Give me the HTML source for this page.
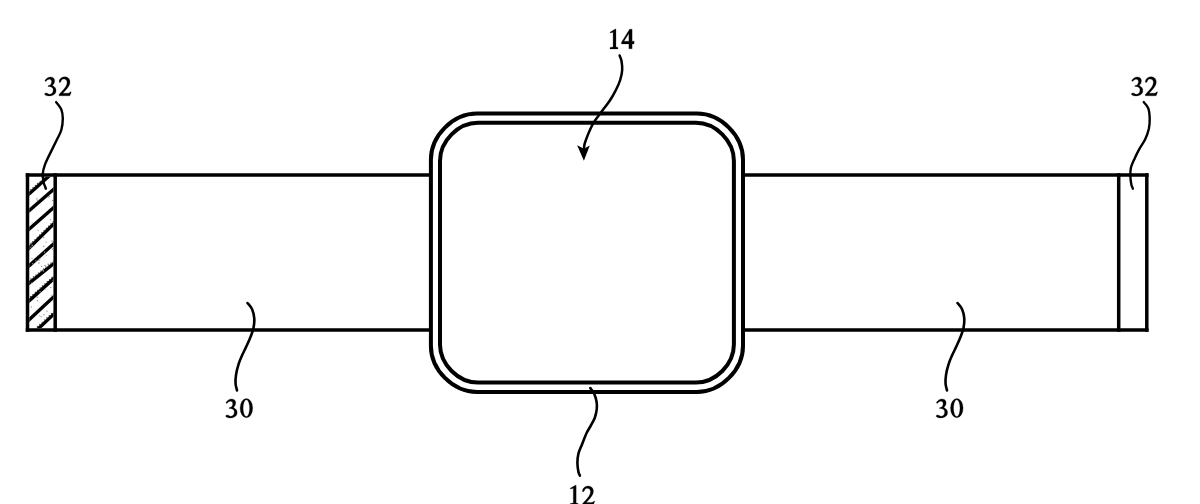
<!DOCTYPE html>
<html><head><meta charset="utf-8"><style>
html,body{margin:0;padding:0;background:#fff;width:1200px;height:504px;overflow:hidden}
svg{display:block}
</style></head><body>
<svg width="1200" height="504" viewBox="0 0 1200 504">
<defs><clipPath id="hc"><rect x="29.25" y="176.65" width="24.20" height="151.50"/></clipPath></defs>
<g clip-path="url(#hc)" stroke="#000" stroke-width="3.4" fill="none"><path d="M25.40 197.17 L56.60 169.33"/><path d="M25.40 213.98 L56.60 186.82"/><path d="M25.40 232.53 L56.60 204.97"/><path d="M25.40 251.71 L56.60 221.19"/><path d="M25.40 269.07 L56.60 241.23"/><path d="M25.40 286.07 L56.60 261.33"/><path d="M25.40 304.10 L56.60 276.00"/><path d="M25.40 323.24 L56.60 294.06"/><path d="M25.40 340.74 L56.60 311.56"/></g>
<g clip-path="url(#hc)"><rect x="37.3" y="199.9" width="1.2" height="1.2" fill="rgb(126,126,126)"/><rect x="31.4" y="257.8" width="1.2" height="1.2" fill="rgb(166,166,166)"/><rect x="43.3" y="314.1" width="1.2" height="1.2" fill="rgb(147,147,147)"/><rect x="30.6" y="242.4" width="1.2" height="1.2" fill="rgb(128,128,128)"/><rect x="35.3" y="260.1" width="1.2" height="1.2" fill="rgb(127,127,127)"/><rect x="48.9" y="195.8" width="1.2" height="1.2" fill="rgb(148,148,148)"/><rect x="44.4" y="264.9" width="1.2" height="1.2" fill="rgb(127,127,127)"/><rect x="43.1" y="236.9" width="1.2" height="1.2" fill="rgb(148,148,148)"/><rect x="30.8" y="306.3" width="1.2" height="1.2" fill="rgb(157,157,157)"/><rect x="39.5" y="258.5" width="1.2" height="1.2" fill="rgb(193,193,193)"/><rect x="36.9" y="300.0" width="1.2" height="1.2" fill="rgb(143,143,143)"/><rect x="32.1" y="263.1" width="1.2" height="1.2" fill="rgb(144,144,144)"/><rect x="38.4" y="259.6" width="1.2" height="1.2" fill="rgb(128,128,128)"/><rect x="42.8" y="270.3" width="1.2" height="1.2" fill="rgb(183,183,183)"/><rect x="45.5" y="241.5" width="1.2" height="1.2" fill="rgb(160,160,160)"/><rect x="40.6" y="316.1" width="1.2" height="1.2" fill="rgb(166,166,166)"/><rect x="36.7" y="296.7" width="1.2" height="1.2" fill="rgb(151,151,151)"/><rect x="31.6" y="222.3" width="1.2" height="1.2" fill="rgb(183,183,183)"/><rect x="50.1" y="286.9" width="1.2" height="1.2" fill="rgb(156,156,156)"/><rect x="43.9" y="188.2" width="1.2" height="1.2" fill="rgb(185,185,185)"/><rect x="39.5" y="291.1" width="1.2" height="1.2" fill="rgb(139,139,139)"/><rect x="51.4" y="240.6" width="1.2" height="1.2" fill="rgb(129,129,129)"/><rect x="47.5" y="263.4" width="1.2" height="1.2" fill="rgb(160,160,160)"/><rect x="37.6" y="229.9" width="1.2" height="1.2" fill="rgb(183,183,183)"/><rect x="43.2" y="245.8" width="1.2" height="1.2" fill="rgb(131,131,131)"/><rect x="51.7" y="248.5" width="1.2" height="1.2" fill="rgb(128,128,128)"/><rect x="31.2" y="282.7" width="1.2" height="1.2" fill="rgb(193,193,193)"/><rect x="52.8" y="300.8" width="1.2" height="1.2" fill="rgb(156,156,156)"/><rect x="46.4" y="310.6" width="1.2" height="1.2" fill="rgb(164,164,164)"/><rect x="30.3" y="246.6" width="1.2" height="1.2" fill="rgb(141,141,141)"/><rect x="43.9" y="251.5" width="1.2" height="1.2" fill="rgb(147,147,147)"/><rect x="47.6" y="196.6" width="1.2" height="1.2" fill="rgb(151,151,151)"/><rect x="39.0" y="315.1" width="1.2" height="1.2" fill="rgb(183,183,183)"/><rect x="31.6" y="244.8" width="1.2" height="1.2" fill="rgb(190,190,190)"/><rect x="36.2" y="197.8" width="1.2" height="1.2" fill="rgb(175,175,175)"/><rect x="49.8" y="219.1" width="1.2" height="1.2" fill="rgb(173,173,173)"/><rect x="52.6" y="279.9" width="1.2" height="1.2" fill="rgb(168,168,168)"/><rect x="52.0" y="199.9" width="1.2" height="1.2" fill="rgb(142,142,142)"/><rect x="33.3" y="276.3" width="1.2" height="1.2" fill="rgb(121,121,121)"/><rect x="41.0" y="265.8" width="1.2" height="1.2" fill="rgb(153,153,153)"/><rect x="36.3" y="199.1" width="1.2" height="1.2" fill="rgb(188,188,188)"/><rect x="38.3" y="262.4" width="1.2" height="1.2" fill="rgb(136,136,136)"/><rect x="45.8" y="254.7" width="1.2" height="1.2" fill="rgb(199,199,199)"/><rect x="44.9" y="288.5" width="1.2" height="1.2" fill="rgb(178,178,178)"/><rect x="50.6" y="294.5" width="1.2" height="1.2" fill="rgb(191,191,191)"/></g>
<g clip-path="url(#hc)" stroke="#333" stroke-width="1.1" stroke-dasharray="1.2 2.0" fill="none"><path d="M25.40 194.37 L56.60 166.53"/><path d="M25.40 248.91 L56.60 218.39"/><path d="M25.40 283.27 L56.60 258.53"/><path d="M25.40 301.30 L56.60 273.20"/><path d="M25.40 337.94 L56.60 308.76"/></g>
<g stroke="#000" stroke-width="3.50" fill="none" stroke-linecap="square">
<path d="M27.50 174.90 H430.90 M27.50 329.90 H430.90"/>
<path d="M27.50 174.90 V329.90 M55.20 174.90 V329.90"/>
<path d="M743.00 174.90 H1146.80 M743.00 329.90 H1146.80"/>
<path d="M1146.80 174.90 V329.90 M1118.70 174.90 V329.90"/>
</g>
<path d="M476.90 113.60 H697.00 C720.92 113.60 743.00 135.68 743.00 159.60 V345.90 C743.00 369.82 720.92 391.90 697.00 391.90 H476.90 C452.98 391.90 430.90 369.82 430.90 345.90 V159.60 C430.90 135.68 452.98 113.60 476.90 113.60 Z" fill="#fff" stroke="#000" stroke-width="4.00"/>
<path d="M478.00 122.70 H695.90 C715.66 122.70 733.90 140.94 733.90 160.70 V344.60 C733.90 364.36 715.66 382.60 695.90 382.60 H478.00 C458.24 382.60 440.00 364.36 440.00 344.60 V160.70 C440.00 140.94 458.24 122.70 478.00 122.70 Z" fill="none" stroke="#000" stroke-width="4.00"/>
<g stroke="#000" fill="none" stroke-linecap="round">
<path stroke-width="2.40" d="M56.1 102.1 C57.0 103.3 60.2 106.7 61.3 109.4 C62.4 112.2 62.8 115.2 62.8 118.6 C62.8 122.0 62.3 126.4 61.3 130.0 C60.3 133.6 58.7 136.0 56.6 140.3 C54.5 144.6 50.9 151.8 48.9 155.9 C46.9 160.0 45.9 162.0 44.9 164.8 C43.9 167.6 43.1 170.0 42.9 172.8 C42.6 175.6 42.9 179.1 43.4 181.7 C43.9 184.3 45.5 187.4 45.9 188.6"/>
<path stroke-width="2.40" d="M1143.7 102.1 C1144.5 103.1 1147.3 105.5 1148.3 108.3 C1149.3 111.0 1149.6 115.1 1149.7 118.6 C1149.8 122.0 1149.5 125.5 1148.8 129.0 C1148.0 132.4 1146.8 135.9 1145.2 139.3 C1143.6 142.7 1140.7 146.5 1139.0 149.6 C1137.3 152.7 1136.2 154.9 1134.9 157.9 C1133.6 160.9 1131.7 164.7 1130.9 167.8 C1130.2 170.9 1130.3 173.9 1130.4 176.7 C1130.5 179.5 1131.0 182.7 1131.4 184.7 C1131.8 186.7 1132.7 188.0 1132.9 188.7"/>
<path stroke-width="2.50" d="M619.6 55.5 C619.9 56.4 621.1 58.6 621.5 61.0 C621.9 63.4 622.4 66.8 622.2 70.0 C622.0 73.2 621.2 76.7 620.2 80.0 C619.2 83.3 617.6 86.7 615.9 90.0 C614.2 93.3 612.8 96.1 610.2 100.0 C607.6 103.9 603.0 109.7 600.3 113.4 C597.6 117.1 595.5 119.5 593.8 122.3 C592.1 125.1 591.2 127.0 589.9 130.0 C588.6 132.9 586.8 137.5 585.9 140.0 C585.0 142.5 584.7 143.3 584.4 145.0 C584.1 146.7 584.0 149.2 583.9 150.0"/>
<path stroke-width="2.60" d="M590.3 388.0 C591.0 389.0 593.2 391.6 594.3 393.9 C595.3 396.2 596.2 399.4 596.6 401.9 C597.0 404.4 597.1 406.2 596.8 408.8 C596.5 411.4 595.8 414.9 594.8 417.7 C593.8 420.5 592.2 423.1 590.8 425.7 C589.4 428.2 588.1 429.8 586.6 433.0 C585.1 436.2 583.2 441.4 581.8 444.9 C580.4 448.4 579.1 450.8 578.4 453.8 C577.7 456.8 577.4 459.7 577.4 462.7 C577.4 465.7 578.0 469.5 578.4 471.7 C578.8 473.9 579.6 475.0 579.9 475.6"/>
<path stroke-width="2.60" d="M247.5 303.0 C248.3 304.1 251.1 306.8 252.2 309.4 C253.3 312.0 254.1 315.5 254.3 318.6 C254.5 321.7 254.1 324.9 253.5 328.0 C252.9 331.1 251.7 333.9 250.5 337.0 C249.3 340.1 247.6 343.7 246.2 346.8 C244.8 349.9 243.3 352.6 242.0 355.5 C240.7 358.4 239.6 360.9 238.6 364.2 C237.6 367.4 236.5 371.7 236.0 375.0 C235.5 378.3 235.4 381.4 235.6 384.0 C235.8 386.6 236.8 389.3 237.0 390.4"/>
<path stroke-width="2.60" d="M957.5 303.0 C958.3 304.1 961.1 306.8 962.2 309.4 C963.3 312.0 964.1 315.5 964.3 318.6 C964.5 321.7 964.1 324.9 963.5 328.0 C962.9 331.1 961.7 333.9 960.5 337.0 C959.3 340.1 957.6 343.7 956.2 346.8 C954.8 349.9 953.3 352.6 952.0 355.5 C950.7 358.4 949.6 360.9 948.6 364.2 C947.6 367.4 946.5 371.7 946.0 375.0 C945.5 378.3 945.4 381.4 945.6 384.0 C945.8 386.6 946.8 389.3 947.0 390.4"/>
</g>
<path d="M583.9 160.8 L577.1 145.2 L583.9 148.8 L589.8 145.5 Z" fill="#000"/>
<g fill="#000" stroke="#000" stroke-width="0.25">
<path transform="translate(44.70 95.90)" fill-rule="evenodd" d="M0.24 -15.24 C0.36 -15.62 0.92 -16.33 1.43 -16.85 C1.95 -17.38 2.62 -18.03 3.34 -18.38 C4.05 -18.73 4.93 -18.93 5.72 -18.93 C6.51 -18.93 7.47 -18.73 8.10 -18.38 C8.73 -18.03 9.23 -17.46 9.53 -16.85 C9.83 -16.25 9.95 -15.51 9.91 -14.78 C9.87 -14.04 9.63 -13.16 9.29 -12.47 C8.95 -11.77 7.94 -11.08 7.86 -10.62 C7.78 -10.16 8.36 -10.12 8.81 -9.70 C9.27 -9.27 10.16 -8.73 10.58 -8.08 C11.00 -7.42 11.27 -6.58 11.34 -5.77 C11.40 -4.96 11.30 -3.98 10.96 -3.23 C10.62 -2.48 10.00 -1.79 9.29 -1.29 C8.58 -0.79 7.58 -0.44 6.67 -0.23 C5.76 -0.01 4.69 0.03 3.81 0.00 C2.94 -0.02 2.07 -0.12 1.43 -0.36 C0.80 -0.61 0.20 -1.11 0.00 -1.47 C-0.19 -1.84 0.00 -2.28 0.24 -2.54 C0.48 -2.79 1.04 -3.00 1.43 -3.00 C1.83 -3.00 2.23 -2.73 2.62 -2.54 C3.02 -2.34 3.38 -1.98 3.81 -1.84 C4.25 -1.70 4.73 -1.63 5.24 -1.70 C5.76 -1.78 6.43 -1.94 6.91 -2.30 C7.39 -2.67 7.84 -3.31 8.10 -3.92 C8.36 -4.54 8.52 -5.35 8.48 -6.00 C8.44 -6.65 8.20 -7.35 7.86 -7.85 C7.52 -8.35 6.99 -8.73 6.43 -9.00 C5.88 -9.27 5.04 -9.39 4.53 -9.46 C4.01 -9.54 3.54 -9.35 3.34 -9.46 C3.14 -9.58 3.10 -9.96 3.34 -10.16 C3.58 -10.35 4.29 -10.35 4.77 -10.62 C5.24 -10.89 5.84 -11.27 6.20 -11.77 C6.55 -12.27 6.83 -13.01 6.91 -13.62 C6.99 -14.24 6.87 -15.01 6.67 -15.47 C6.47 -15.93 6.12 -16.20 5.72 -16.39 C5.32 -16.59 4.77 -16.66 4.29 -16.62 C3.81 -16.59 3.30 -16.43 2.86 -16.16 C2.43 -15.89 2.03 -15.28 1.67 -15.01 C1.31 -14.74 0.96 -14.51 0.72 -14.55 C0.48 -14.58 0.12 -14.85 0.24 -15.24Z"/>
<path transform="translate(58.90 95.80)" fill-rule="evenodd" d="M0.24 -13.70 C0.20 -14.20 0.28 -15.49 0.72 -16.25 C1.16 -17.01 1.99 -17.79 2.86 -18.25 C3.73 -18.71 4.93 -19.06 5.96 -19.04 C6.99 -19.02 8.23 -18.69 9.05 -18.11 C9.87 -17.53 10.56 -16.56 10.86 -15.56 C11.16 -14.55 11.12 -13.20 10.86 -12.07 C10.60 -10.95 9.99 -9.91 9.29 -8.82 C8.59 -7.74 7.54 -6.60 6.67 -5.57 C5.80 -4.55 4.05 -2.65 4.05 -2.65 C4.05 -2.65 9.53 -2.65 9.53 -2.65 C9.53 -2.65 10.60 -3.04 10.96 -3.25 C11.31 -3.47 11.45 -3.90 11.67 -3.95 C11.89 -4.00 12.41 -4.24 12.29 -3.58 C12.17 -2.92 10.96 -0.00 10.96 -0.00 C10.96 -0.00 0.24 -0.00 0.24 -0.00 C0.24 -0.00 0.00 -1.16 0.00 -1.16 C0.00 -1.16 2.74 -4.10 3.81 -5.34 C4.89 -6.58 5.76 -7.55 6.43 -8.59 C7.11 -9.64 7.58 -10.68 7.86 -11.61 C8.14 -12.54 8.26 -13.39 8.10 -14.16 C7.94 -14.94 7.47 -15.80 6.91 -16.25 C6.35 -16.70 5.44 -16.88 4.77 -16.86 C4.09 -16.83 3.34 -16.56 2.86 -16.11 C2.39 -15.67 2.23 -14.64 1.91 -14.16 C1.59 -13.68 1.23 -13.31 0.96 -13.24 C0.68 -13.16 0.28 -13.20 0.24 -13.70Z"/>
<path transform="translate(1131.50 95.90)" fill-rule="evenodd" d="M0.24 -15.24 C0.36 -15.62 0.92 -16.33 1.43 -16.85 C1.95 -17.38 2.62 -18.03 3.34 -18.38 C4.05 -18.73 4.93 -18.93 5.72 -18.93 C6.51 -18.93 7.47 -18.73 8.10 -18.38 C8.73 -18.03 9.23 -17.46 9.53 -16.85 C9.83 -16.25 9.95 -15.51 9.91 -14.78 C9.87 -14.04 9.63 -13.16 9.29 -12.47 C8.95 -11.77 7.94 -11.08 7.86 -10.62 C7.78 -10.16 8.36 -10.12 8.81 -9.70 C9.27 -9.27 10.16 -8.73 10.58 -8.08 C11.00 -7.42 11.27 -6.58 11.34 -5.77 C11.40 -4.96 11.30 -3.98 10.96 -3.23 C10.62 -2.48 10.00 -1.79 9.29 -1.29 C8.58 -0.79 7.58 -0.44 6.67 -0.23 C5.76 -0.01 4.69 0.03 3.81 0.00 C2.94 -0.02 2.07 -0.12 1.43 -0.36 C0.80 -0.61 0.20 -1.11 0.00 -1.47 C-0.19 -1.84 0.00 -2.28 0.24 -2.54 C0.48 -2.79 1.04 -3.00 1.43 -3.00 C1.83 -3.00 2.23 -2.73 2.62 -2.54 C3.02 -2.34 3.38 -1.98 3.81 -1.84 C4.25 -1.70 4.73 -1.63 5.24 -1.70 C5.76 -1.78 6.43 -1.94 6.91 -2.30 C7.39 -2.67 7.84 -3.31 8.10 -3.92 C8.36 -4.54 8.52 -5.35 8.48 -6.00 C8.44 -6.65 8.20 -7.35 7.86 -7.85 C7.52 -8.35 6.99 -8.73 6.43 -9.00 C5.88 -9.27 5.04 -9.39 4.53 -9.46 C4.01 -9.54 3.54 -9.35 3.34 -9.46 C3.14 -9.58 3.10 -9.96 3.34 -10.16 C3.58 -10.35 4.29 -10.35 4.77 -10.62 C5.24 -10.89 5.84 -11.27 6.20 -11.77 C6.55 -12.27 6.83 -13.01 6.91 -13.62 C6.99 -14.24 6.87 -15.01 6.67 -15.47 C6.47 -15.93 6.12 -16.20 5.72 -16.39 C5.32 -16.59 4.77 -16.66 4.29 -16.62 C3.81 -16.59 3.30 -16.43 2.86 -16.16 C2.43 -15.89 2.03 -15.28 1.67 -15.01 C1.31 -14.74 0.96 -14.51 0.72 -14.55 C0.48 -14.58 0.12 -14.85 0.24 -15.24Z"/>
<path transform="translate(1145.20 95.80)" fill-rule="evenodd" d="M0.24 -13.70 C0.20 -14.20 0.28 -15.49 0.72 -16.25 C1.16 -17.01 1.99 -17.79 2.86 -18.25 C3.73 -18.71 4.93 -19.06 5.96 -19.04 C6.99 -19.02 8.23 -18.69 9.05 -18.11 C9.87 -17.53 10.56 -16.56 10.86 -15.56 C11.16 -14.55 11.12 -13.20 10.86 -12.07 C10.60 -10.95 9.99 -9.91 9.29 -8.82 C8.59 -7.74 7.54 -6.60 6.67 -5.57 C5.80 -4.55 4.05 -2.65 4.05 -2.65 C4.05 -2.65 9.53 -2.65 9.53 -2.65 C9.53 -2.65 10.60 -3.04 10.96 -3.25 C11.31 -3.47 11.45 -3.90 11.67 -3.95 C11.89 -4.00 12.41 -4.24 12.29 -3.58 C12.17 -2.92 10.96 -0.00 10.96 -0.00 C10.96 -0.00 0.24 -0.00 0.24 -0.00 C0.24 -0.00 0.00 -1.16 0.00 -1.16 C0.00 -1.16 2.74 -4.10 3.81 -5.34 C4.89 -6.58 5.76 -7.55 6.43 -8.59 C7.11 -9.64 7.58 -10.68 7.86 -11.61 C8.14 -12.54 8.26 -13.39 8.10 -14.16 C7.94 -14.94 7.47 -15.80 6.91 -16.25 C6.35 -16.70 5.44 -16.88 4.77 -16.86 C4.09 -16.83 3.34 -16.56 2.86 -16.11 C2.39 -15.67 2.23 -14.64 1.91 -14.16 C1.59 -13.68 1.23 -13.31 0.96 -13.24 C0.68 -13.16 0.28 -13.20 0.24 -13.70Z"/>
<path transform="translate(610.00 48.90)" fill-rule="evenodd" d="M5.24 -19.90 L5.95 -19.76 L5.95 -2.00 L7.95 -1.52 L7.95 0.00 L0.00 0.00 L0.00 -1.52 L3.10 -2.00 L3.10 -16.76 L0.48 -16.00 L0.00 -16.76Z"/>
<path transform="translate(621.50 48.90)" fill-rule="evenodd" d="M8.10 -19.76 L10.62 -19.76 L10.62 -7.71 L12.71 -7.71 L12.52 -5.00 L10.62 -5.00 L10.62 -0.09 L7.38 -0.09 L7.38 -5.00 L0.00 -5.00 L0.00 -6.76ZM2.43 -7.71 L7.38 -7.71 L7.38 -15.33Z"/>
<path transform="translate(225.80 417.90)" fill-rule="evenodd" d="M0.24 -15.24 C0.36 -15.62 0.92 -16.33 1.43 -16.85 C1.95 -17.38 2.62 -18.03 3.34 -18.38 C4.05 -18.73 4.93 -18.93 5.72 -18.93 C6.51 -18.93 7.47 -18.73 8.10 -18.38 C8.73 -18.03 9.23 -17.46 9.53 -16.85 C9.83 -16.25 9.95 -15.51 9.91 -14.78 C9.87 -14.04 9.63 -13.16 9.29 -12.47 C8.95 -11.77 7.94 -11.08 7.86 -10.62 C7.78 -10.16 8.36 -10.12 8.81 -9.70 C9.27 -9.27 10.16 -8.73 10.58 -8.08 C11.00 -7.42 11.27 -6.58 11.34 -5.77 C11.40 -4.96 11.30 -3.98 10.96 -3.23 C10.62 -2.48 10.00 -1.79 9.29 -1.29 C8.58 -0.79 7.58 -0.44 6.67 -0.23 C5.76 -0.01 4.69 0.03 3.81 0.00 C2.94 -0.02 2.07 -0.12 1.43 -0.36 C0.80 -0.61 0.20 -1.11 0.00 -1.47 C-0.19 -1.84 0.00 -2.28 0.24 -2.54 C0.48 -2.79 1.04 -3.00 1.43 -3.00 C1.83 -3.00 2.23 -2.73 2.62 -2.54 C3.02 -2.34 3.38 -1.98 3.81 -1.84 C4.25 -1.70 4.73 -1.63 5.24 -1.70 C5.76 -1.78 6.43 -1.94 6.91 -2.30 C7.39 -2.67 7.84 -3.31 8.10 -3.92 C8.36 -4.54 8.52 -5.35 8.48 -6.00 C8.44 -6.65 8.20 -7.35 7.86 -7.85 C7.52 -8.35 6.99 -8.73 6.43 -9.00 C5.88 -9.27 5.04 -9.39 4.53 -9.46 C4.01 -9.54 3.54 -9.35 3.34 -9.46 C3.14 -9.58 3.10 -9.96 3.34 -10.16 C3.58 -10.35 4.29 -10.35 4.77 -10.62 C5.24 -10.89 5.84 -11.27 6.20 -11.77 C6.55 -12.27 6.83 -13.01 6.91 -13.62 C6.99 -14.24 6.87 -15.01 6.67 -15.47 C6.47 -15.93 6.12 -16.20 5.72 -16.39 C5.32 -16.59 4.77 -16.66 4.29 -16.62 C3.81 -16.59 3.30 -16.43 2.86 -16.16 C2.43 -15.89 2.03 -15.28 1.67 -15.01 C1.31 -14.74 0.96 -14.51 0.72 -14.55 C0.48 -14.58 0.12 -14.85 0.24 -15.24Z"/>
<path transform="translate(240.10 417.70)" fill-rule="evenodd" d="M0.00 -9.60 A6.30 9.60 0 1 0 12.60 -9.60 A6.30 9.60 0 1 0 0.00 -9.60 ZM3.00 -9.50 A3.25 8.40 0 1 0 9.50 -9.50 A3.25 8.40 0 1 0 3.00 -9.50 Z"/>
<path transform="translate(936.20 417.90)" fill-rule="evenodd" d="M0.24 -15.24 C0.36 -15.62 0.92 -16.33 1.43 -16.85 C1.95 -17.38 2.62 -18.03 3.34 -18.38 C4.05 -18.73 4.93 -18.93 5.72 -18.93 C6.51 -18.93 7.47 -18.73 8.10 -18.38 C8.73 -18.03 9.23 -17.46 9.53 -16.85 C9.83 -16.25 9.95 -15.51 9.91 -14.78 C9.87 -14.04 9.63 -13.16 9.29 -12.47 C8.95 -11.77 7.94 -11.08 7.86 -10.62 C7.78 -10.16 8.36 -10.12 8.81 -9.70 C9.27 -9.27 10.16 -8.73 10.58 -8.08 C11.00 -7.42 11.27 -6.58 11.34 -5.77 C11.40 -4.96 11.30 -3.98 10.96 -3.23 C10.62 -2.48 10.00 -1.79 9.29 -1.29 C8.58 -0.79 7.58 -0.44 6.67 -0.23 C5.76 -0.01 4.69 0.03 3.81 0.00 C2.94 -0.02 2.07 -0.12 1.43 -0.36 C0.80 -0.61 0.20 -1.11 0.00 -1.47 C-0.19 -1.84 0.00 -2.28 0.24 -2.54 C0.48 -2.79 1.04 -3.00 1.43 -3.00 C1.83 -3.00 2.23 -2.73 2.62 -2.54 C3.02 -2.34 3.38 -1.98 3.81 -1.84 C4.25 -1.70 4.73 -1.63 5.24 -1.70 C5.76 -1.78 6.43 -1.94 6.91 -2.30 C7.39 -2.67 7.84 -3.31 8.10 -3.92 C8.36 -4.54 8.52 -5.35 8.48 -6.00 C8.44 -6.65 8.20 -7.35 7.86 -7.85 C7.52 -8.35 6.99 -8.73 6.43 -9.00 C5.88 -9.27 5.04 -9.39 4.53 -9.46 C4.01 -9.54 3.54 -9.35 3.34 -9.46 C3.14 -9.58 3.10 -9.96 3.34 -10.16 C3.58 -10.35 4.29 -10.35 4.77 -10.62 C5.24 -10.89 5.84 -11.27 6.20 -11.77 C6.55 -12.27 6.83 -13.01 6.91 -13.62 C6.99 -14.24 6.87 -15.01 6.67 -15.47 C6.47 -15.93 6.12 -16.20 5.72 -16.39 C5.32 -16.59 4.77 -16.66 4.29 -16.62 C3.81 -16.59 3.30 -16.43 2.86 -16.16 C2.43 -15.89 2.03 -15.28 1.67 -15.01 C1.31 -14.74 0.96 -14.51 0.72 -14.55 C0.48 -14.58 0.12 -14.85 0.24 -15.24Z"/>
<path transform="translate(950.50 417.70)" fill-rule="evenodd" d="M0.00 -9.60 A6.30 9.60 0 1 0 12.60 -9.60 A6.30 9.60 0 1 0 0.00 -9.60 ZM3.00 -9.50 A3.25 8.40 0 1 0 9.50 -9.50 A3.25 8.40 0 1 0 3.00 -9.50 Z"/>
<path transform="translate(570.20 505.10)" fill-rule="evenodd" d="M5.24 -19.90 L5.95 -19.76 L5.95 -2.00 L7.95 -1.52 L7.95 0.00 L0.00 0.00 L0.00 -1.52 L3.10 -2.00 L3.10 -16.76 L0.48 -16.00 L0.00 -16.76Z"/>
<path transform="translate(582.30 505.10)" fill-rule="evenodd" d="M0.24 -13.70 C0.20 -14.20 0.28 -15.49 0.72 -16.25 C1.16 -17.01 1.99 -17.79 2.86 -18.25 C3.73 -18.71 4.93 -19.06 5.96 -19.04 C6.99 -19.02 8.23 -18.69 9.05 -18.11 C9.87 -17.53 10.56 -16.56 10.86 -15.56 C11.16 -14.55 11.12 -13.20 10.86 -12.07 C10.60 -10.95 9.99 -9.91 9.29 -8.82 C8.59 -7.74 7.54 -6.60 6.67 -5.57 C5.80 -4.55 4.05 -2.65 4.05 -2.65 C4.05 -2.65 9.53 -2.65 9.53 -2.65 C9.53 -2.65 10.60 -3.04 10.96 -3.25 C11.31 -3.47 11.45 -3.90 11.67 -3.95 C11.89 -4.00 12.41 -4.24 12.29 -3.58 C12.17 -2.92 10.96 -0.00 10.96 -0.00 C10.96 -0.00 0.24 -0.00 0.24 -0.00 C0.24 -0.00 0.00 -1.16 0.00 -1.16 C0.00 -1.16 2.74 -4.10 3.81 -5.34 C4.89 -6.58 5.76 -7.55 6.43 -8.59 C7.11 -9.64 7.58 -10.68 7.86 -11.61 C8.14 -12.54 8.26 -13.39 8.10 -14.16 C7.94 -14.94 7.47 -15.80 6.91 -16.25 C6.35 -16.70 5.44 -16.88 4.77 -16.86 C4.09 -16.83 3.34 -16.56 2.86 -16.11 C2.39 -15.67 2.23 -14.64 1.91 -14.16 C1.59 -13.68 1.23 -13.31 0.96 -13.24 C0.68 -13.16 0.28 -13.20 0.24 -13.70Z"/>
</g>
</svg>
</body></html>
